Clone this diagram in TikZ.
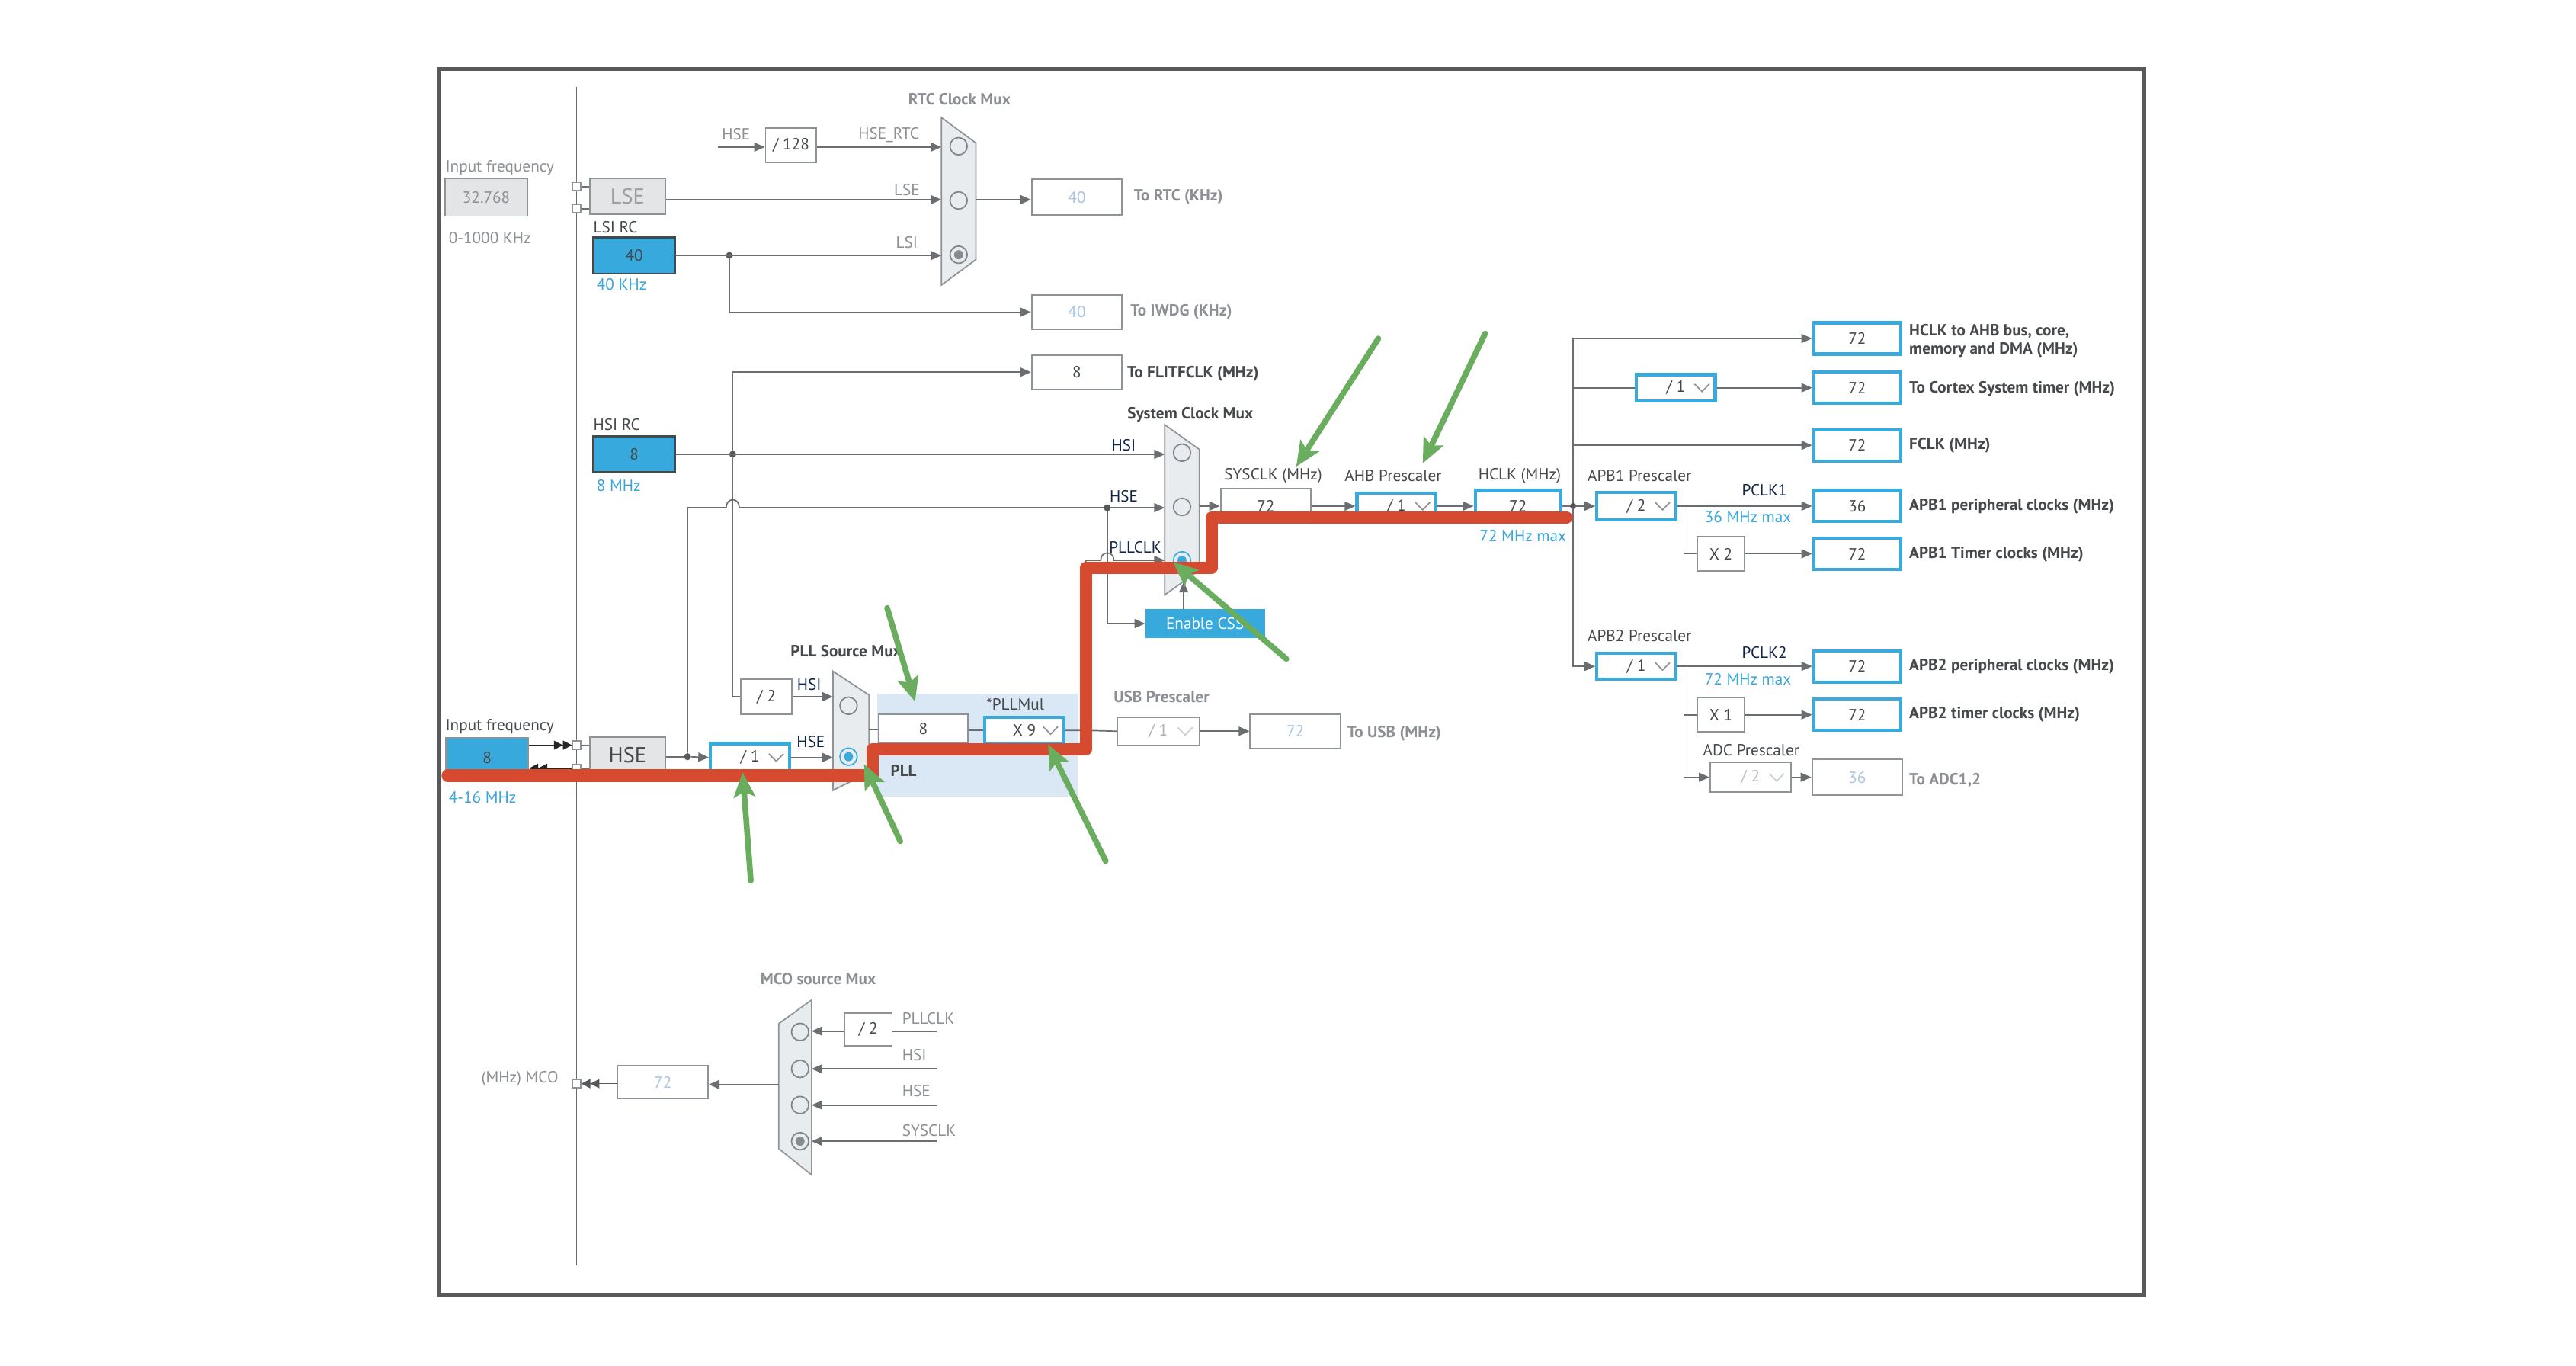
\documentclass[tikz,border=0pt]{standalone}
\usepackage{fontspec}
\setmainfont{PT Sans}
\usetikzlibrary{arrows.meta,calc}
\definecolor{frameC}{HTML}{58595B}
\definecolor{lineC}{HTML}{6B6E71}
\definecolor{boxC}{HTML}{8E9398}
\definecolor{muxC}{HTML}{E8ECEF}
\definecolor{gfill}{HTML}{E3E5E7}
\definecolor{bfill}{HTML}{38A9DC}
\definecolor{bline}{HTML}{3AA9DC}
\definecolor{navy}{HTML}{122548}
\definecolor{dtext}{HTML}{46494C}
\definecolor{ltext}{HTML}{8C8F93}
\definecolor{btext}{HTML}{3AA6DC}
\definecolor{vlight}{HTML}{A9C5E3}
\definecolor{pllbg}{HTML}{DAE8F6}
\definecolor{redC}{HTML}{D64A2F}
\definecolor{greenC}{HTML}{6AAD5E}
\definecolor{dotC}{HTML}{55585B}
\newcommand\fl{\fontsize{11.2}{13}\selectfont}
\newcommand\fv{\fontsize{11.2}{13}\selectfont}
\newcommand\fbig{\fontsize{15}{17}\selectfont}
\newcommand\ddchev[2][dtext!60]{\draw[#1, line width=0.9pt] ($(#2.east)+(-13.5,-2.3)$) -- ++(4.5,4.6) -- ++(4.5,-4.6);}
\begin{document}
\begin{tikzpicture}[x=0.04cm,y=-0.04cm,
  ln/.style={draw=lineC, line width=0.9pt},
  arr/.style={ln, -{Triangle[length=0.26cm,width=0.22cm]}},
  darr/.style={draw=black!85, line width=0.9pt, -{Triangle[length=0.22cm,width=0.22cm]Triangle[length=0.22cm,width=0.22cm]}},
  sz/.style 2 args={minimum width=#1*0.04cm, minimum height=#2*0.04cm},
  box/.style={draw=boxC, line width=1pt, fill=white, inner sep=0pt, font=\fv, text=dtext},
  bbox/.style={box, draw=bline, line width=2.2pt},
  lbox/.style={box, text=vlight},
  gbox/.style={box, fill=gfill},
  bluebox/.style={box, fill=bfill, draw=dtext, line width=1.4pt, text=dtext},
  lbl/.style={font=\fl, text=dtext, inner sep=0pt},
  llbl/.style={lbl, text=ltext},
  blbl/.style={lbl, font=\fl\bfseries},
  nlbl/.style={lbl, text=navy},
  clbl/.style={lbl, text=btext},
  mux/.style={fill=muxC, draw=boxC, line width=0.9pt},
  rad/.style={circle, draw=boxC!90!black, line width=0.9pt, minimum size=0.42cm, inner sep=0pt},
  sq/.style={draw=boxC, fill=white, line width=0.8pt, minimum size=0.2cm, inner sep=0pt},
  dot/.style={circle, fill=dotC, minimum size=0.17cm, inner sep=0pt},
  redpath/.style={draw=redC, line width=8.5pt, line cap=round, line join=round},
  grn/.style={draw=greenC, line width=4pt, line cap=round, -{Stealth[length=0.6cm,width=0.52cm,inset=0.12cm]}},
]
\useasboundingbox (0,0) rectangle (1568,831);
\fill[white] (0,0) rectangle (1568,831);
\draw[frameC, line width=2.8pt] (267,42) rectangle (1305,788);
\draw[ln, line width=0.8pt] (351,53) -- (351,770);

% ---------------- LSE / LSI / RTC
\node[llbl, anchor=west] at (271,102) {Input frequency};
\node[gbox, sz={50}{23}, text=ltext] (lsef) at (296,120) {32.768};
\node[llbl, anchor=west] at (273,145) {0-1000 KHz};
\node[sq] (sq1) at (351,113.5) {};
\node[sq] (sq2) at (351,127) {};
\node[gbox, sz={46}{22}, font=\fbig, text=ltext!85] (lse) at (382,119.5) {LSE};
\draw[ln] (sq1.east) -- (lse.west |- sq1);
\draw[ln] (sq2.east) -- (lse.west |- sq2);
\node[lbl, anchor=west] at (361,138.5) {LSI RC};
\node[bluebox, sz={50}{22}] (lsi) at (386,155.5) {40};
\node[clbl, anchor=west] at (363,173) {40 KHz};

\draw[mux] (573,71.5) -- (594,87) -- (594,158) -- (573,173.5) -- cycle;
\node[blbl, text=ltext] at (584,60.5) {RTC Clock Mux};
\node[rad] (rtc1) at (583.5,89) {};
\node[rad] (rtc2) at (583.5,122) {};
\node[rad] (rtc3) at (583.5,155) {};
\fill[dotC!70] (rtc3.center) circle[radius=0.11cm];
\coordinate (rtcin1) at (573,89.5);
\coordinate (rtcin2) at (573,121.5);
\coordinate (rtcin3) at (573,155.5);
\coordinate (rtcout) at (594,121.5);

\coordinate (hsertc) at (437,89.5);
\node[llbl] at (448,81.5) {HSE};
\node[box, sz={31}{21}] (d128) at (481.5,88.5) {/ 128};
\draw[arr] (hsertc) -- (d128.west |- hsertc);
\draw[arr] (d128.east |- rtcin1) -- (rtcin1);
\node[llbl] at (541,82) {HSE\_RTC};
\draw[arr] (lse.east |- rtcin2) -- (rtcin2);
\node[llbl] at (552,115.5) {LSE};
\node[dot] (lsidot) at (444,155.5) {};
\draw[arr] (lsi.east |- rtcin3) -- (rtcin3);
\node[llbl] at (552,147.5) {LSI};

\node[lbox, sz={55}{22}] (rtcb) at (655.5,120) {40};
\draw[arr] (rtcout) -- (rtcb.west |- rtcout);
\node[blbl, text=ltext, anchor=west] at (690,120) {To RTC (KHz)};
\node[lbox, sz={55}{21}] (iwdg) at (655.5,190) {40};
\draw[arr] (lsidot) |- (iwdg.west);
\node[blbl, text=ltext, anchor=west] at (688,190) {To IWDG (KHz)};

% ---------------- HSI / FLITF
\node[box, sz={55}{21}] (flit) at (655.5,226.5) {8};
\node[blbl, anchor=west] at (686,227.5) {To FLITFCLK (MHz)};
\node[lbl, anchor=west] at (361,258.5) {HSI RC};
\node[bluebox, sz={50}{22}] (hsi) at (386,276.5) {8};
\node[clbl, anchor=west] at (363,295.5) {8 MHz};
\node[dot] (hsidot) at (446,276.5) {};
\draw[arr] (hsidot) |- (flit.west);

% ---------------- System clock mux
\draw[mux] (709,258.5) -- (730,273.5) -- (730,347) -- (709,362) -- cycle;
\node[blbl] at (724.5,252.5) {System Clock Mux};
\node[rad] (s1) at (719.5,275.5) {};
\node[rad] (s2) at (719.5,308.5) {};
\node[rad, draw=bline] (s3) at (719.5,341) {};
\fill[bline] (s3.center) circle[radius=0.11cm];
\coordinate (sysin1) at (709,276.5);
\coordinate (sysin2) at (709,309);
\coordinate (sysin3) at (709,341);
\coordinate (sysout) at (730,308);
\coordinate (sysbot) at (720.5,354);
\draw[arr] (hsi.east) -- (sysin1);
\node[nlbl] at (684,271) {HSI};
\node[nlbl] at (684,302) {HSE};
\node[nlbl] at (691,333) {PLLCLK};

% HSE line to sys mux (hop over HSI vertical)
\node[dot] (hsedot) at (418.5,460.5) {};
\coordinate (hsec) at (418.5,309);
\coordinate (hopA) at (442,309);
\coordinate (hopB) at (450,309);
\draw[arr] (hsedot) -- (hsec) -- (hopA) .. controls (442,302.5) and (450,302.5) .. (hopB) -- (sysin2);
\node[dot] (hse2dot) at (674,309) {};

% Enable CSS
\node[box, fill=bfill, draw=bfill, text=white, sz={72}{17}] (css) at (733.5,379.5) {Enable CSS};
\draw[arr] (hse2dot) |- (css.west);
\draw[arr] (css.north -| sysbot) -- (sysbot);

% ---------------- PLL
\fill[pllbg] (534,422) rectangle (656,485);
\node[box, sz={31}{21}] (div2) at (466.5,424) {/ 2};
\draw[ln] (hsidot) |- (div2.west);
\draw[mux] (507,408.5) -- (529,423) -- (529,470) -- (507,481) -- cycle;
\node[blbl] at (515,396) {PLL Source Mux};
\node[rad] (p1) at (516.5,429.5) {};
\node[rad, draw=bline] (p2) at (516.5,460.5) {};
\fill[bline] (p2.center) circle[radius=0.11cm];
\coordinate (pllin1) at (507,424);
\coordinate (pllin2) at (507,461);
\coordinate (pllout) at (529,444);
\draw[arr] (div2.east) -- (pllin1);
\node[nlbl] at (492.5,416.5) {HSI};
\node[nlbl] at (493.5,451.5) {HSE};

% HSE input
\node[lbl, anchor=west] at (271,442) {Input frequency};
\node[bluebox, draw=boxC, sz={50}{24}] (hsein) at (296.5,461) {8};
\node[clbl, anchor=west] at (273,485.5) {4-16 MHz};
\node[sq] (sq3) at (351,453.5) {};
\node[sq] (sq4) at (351,467.5) {};
\draw[darr] (hsein.east |- sq3) -- (sq3.west);
\draw[darr] (sq4.west) -- (hsein.east |- sq4);
\node[gbox, sz={46}{22}, font=\fbig, text=dtext] (hse) at (382,459.5) {HSE};
\draw[ln] (sq3.east) -- (hse.west |- sq3);
\draw[ln] (sq4.east) -- (hse.west |- sq4);
\draw[ln] (hse.east |- hsedot) -- (hsedot);
\node[bbox, sz={48}{17}] (div1) at (456.5,461) {/ 1\hspace{0.6cm}};
\ddchev{div1}
\draw[arr] (hsedot) -- (div1.west);
\draw[arr] (div1.east) -- (pllin2);

\node[box, sz={54}{18}] (pll8) at (562,443.5) {8};
\draw[ln] (pllout) -- (pll8.west |- pllout);
\node[bbox, sz={48}{16}] (pllmul) at (623.5,444.5) {X 9\hspace{0.6cm}};
\ddchev{pllmul}
\draw[ln] (pll8.east |- pllmul) -- (pllmul.west);
\node[lbl] at (618,428.5) {*PLLMul};
\node[blbl] at (550,469) {PLL};

% PLLCLK line with hop
\coordinate (pllj) at (661,444.5);
\coordinate (pllup) at (661,341);
\draw[arr] (pllmul.east) -- (pllj) -- (pllup) -- (670,341) .. controls (670,335) and (678,335) .. (678,341) -- (sysin3);

% USB
\node[box, sz={50}{17}, text=ltext!70] (usb) at (705,445) {/ 1\hspace{0.6cm}};
\ddchev[boxC!45]{usb}
\draw[ln] (pllj) -- (usb.west);
\node[blbl, text=ltext] at (707,424) {USB Prescaler};
\node[lbox, sz={55}{21}] (usbo) at (788.5,445) {72};
\draw[arr] (usb.east) -- (usbo.west);
\node[blbl, text=ltext, anchor=west] at (820,446.5) {To USB (MHz)};

% ---------------- SYSCLK / AHB / HCLK
\node[box, sz={55}{21}] (sysclk) at (770.5,308) {72};
\draw[arr] (sysout) -- (sysclk.west |- sysout);
\node[lbl] at (775,289.5) {SYSCLK (MHz)};
\node[bbox, sz={48}{16}] (ahb) at (850,308) {/ 1\hspace{0.6cm}};
\ddchev{ahb}
\node[lbl] at (848,289.5) {AHB Prescaler};
\node[bbox, sz={52}{19}] (hclk) at (924,308) {72};
\node[lbl] at (925,289.5) {HCLK (MHz)};
\node[clbl] at (927,326) {72 MHz max};
\draw[arr] (sysclk.east) -- (ahb.west);
\draw[arr] (ahb.east) -- (hclk.west);

% ---------------- distribution
\node[dot, minimum size=0.15cm] (hdot) at (957.5,308) {};
\draw[ln] (hclk.east) -- (hdot);
\node[bbox, sz={48}{17}] (apb1) at (996,308) {/ 2\hspace{0.6cm}};
\ddchev{apb1}
\draw[arr] (hdot) -- (apb1.west);
\node[bbox, sz={53}{19}] (o1) at (1130.5,206) {72};
\draw[arr] (hdot) |- (o1.west);
\node[bbox, sz={48}{16}] (cort) at (1020,236) {/ 1\hspace{0.6cm}};
\ddchev{cort}
\node[bbox, sz={53}{19}] (o2) at (1130.5,236) {72};
\draw[ln] (hdot) |- (cort.west);
\draw[arr] (cort.east) -- (o2.west);
\node[bbox, sz={53}{19}] (o3) at (1130.5,271) {72};
\draw[arr] (hdot) |- (o3.west);
\node[bbox, sz={53}{19}] (o4) at (1130.5,308) {36};
\draw[arr] (apb1.east) -- (o4.west);
\coordinate (b1) at (1025,308);
\node[box, sz={29}{21}] (x2) at (1047.5,337) {X 2};
\node[bbox, sz={53}{19}] (o5) at (1130.5,337) {72};
\draw[ln] (b1) |- (x2.west);
\draw[arr] (x2.east) -- (o5.west);
\node[bbox, sz={48}{16}] (apb2) at (996,405.5) {/ 1\hspace{0.6cm}};
\ddchev{apb2}
\draw[arr] (hdot) |- (apb2.west);
\node[bbox, sz={53}{19}] (o6) at (1130.5,405.5) {72};
\draw[arr] (apb2.east) -- (o6.west);
\coordinate (b2) at (1025,405.5);
\node[box, sz={29}{21}] (x1) at (1047.5,435) {X 1};
\node[bbox, sz={53}{19}] (o7) at (1130.5,435) {72};
\draw[ln] (b2) |- (x1.west);
\draw[arr] (x1.east) -- (o7.west);
\node[box, sz={49}{18}, text=ltext!60] (adc) at (1065.5,473) {/ 2\hspace{0.6cm}};
\ddchev[boxC!45]{adc}
\node[lbox, sz={55}{22}] (o8) at (1130.5,473) {36};
\draw[arr] (b2) |- (adc.west);
\draw[arr] (adc.east) -- (o8.west);

\node[blbl, anchor=west, align=left] at (1162,207.5) {HCLK to AHB bus, core,\\memory and DMA (MHz)};
\node[blbl, anchor=west] at (1162,236.5) {To Cortex System timer (MHz)};
\node[blbl, anchor=west] at (1162,271) {FCLK (MHz)};
\node[blbl, anchor=west] at (1162,308) {APB1 peripheral clocks (MHz)};
\node[blbl, anchor=west] at (1162,337.5) {APB1 Timer clocks (MHz)};
\node[blbl, anchor=west] at (1162,405.5) {APB2 peripheral clocks (MHz)};
\node[blbl, anchor=west] at (1162,435) {APB2 timer clocks (MHz)};
\node[blbl, text=ltext, anchor=west] at (1162,475) {To ADC1,2};
\node[lbl] at (998,289.5) {APB1 Prescaler};
\node[nlbl] at (1074,298.5) {PCLK1};
\node[clbl] at (1064,314.5) {36 MHz max};
\node[lbl] at (998,387) {APB2 Prescaler};
\node[nlbl] at (1074,397) {PCLK2};
\node[clbl] at (1064,413.5) {72 MHz max};
\node[lbl] at (1066,456.5) {ADC Prescaler};

% ---------------- MCO
\node[blbl, text=ltext] at (498,595.5) {MCO source Mux};
\draw[mux] (494,608.5) -- (494,715) -- (474,699) -- (474,623) -- cycle;
\node[rad] (m1) at (487,628) {};
\node[rad] (m2) at (487,650.5) {};
\node[rad] (m3) at (487,672.5) {};
\node[rad] (m4) at (487,694.5) {};
\fill[dotC!70] (m4.center) circle[radius=0.11cm];
\coordinate (mi1) at (494,627.5);
\coordinate (mi2) at (494,650.5);
\coordinate (mi3) at (494,672.5);
\coordinate (mi4) at (494,694.5);
\coordinate (mpll) at (570,627.5);
\coordinate (mhsi) at (570,650.5);
\coordinate (mhse) at (570,672.5);
\coordinate (msys) at (570,694.5);
\node[box, sz={29}{20}] (mdiv) at (528.5,626.5) {/ 2};
\draw[ln] (mpll) -- (mdiv.east |- mpll);
\draw[arr] (mdiv.west |- mi1) -- (mi1);
\draw[arr] (mhsi) -- (mi2);
\draw[arr] (mhse) -- (mi3);
\draw[arr] (msys) -- (mi4);
\node[llbl, anchor=west] at (549,620) {PLLCLK};
\node[llbl, anchor=west] at (549,642) {HSI};
\node[llbl, anchor=west] at (549,664) {HSE};
\node[llbl, anchor=west] at (549,688) {SYSCLK};
\coordinate (mcoo) at (474,660);
\node[lbox, sz={55}{20}] (mco) at (403.5,658.5) {72};
\draw[arr] (mcoo) -- (mco.east |- mcoo);
\node[sq] (sq5) at (351,659.5) {};
\draw[darr, draw=dotC] (mco.west |- sq5) -- (sq5.east);
\node[llbl, anchor=east] at (340,656.5) {(MHz) MCO};

% ---------------- highlighted path
\draw[redpath] (272.5,472) -- (531,472) -- (531,456) -- (661,456) -- (661,345.5) -- (737.5,345.5) -- (737.5,315) -- (953.5,315);

% ---------------- green pointers
\draw[grn] (540,370) -- (557,427);
\draw[grn] (457,536) -- (452,470);
\draw[grn] (548,512) -- (526,465);
\draw[grn] (673,524) -- (638,453);
\draw[grn] (839,206) -- (789,284);
\draw[grn] (904,203) -- (866,282);
\draw[grn] (783,401) -- (714,342);
\end{tikzpicture}
\end{document}
